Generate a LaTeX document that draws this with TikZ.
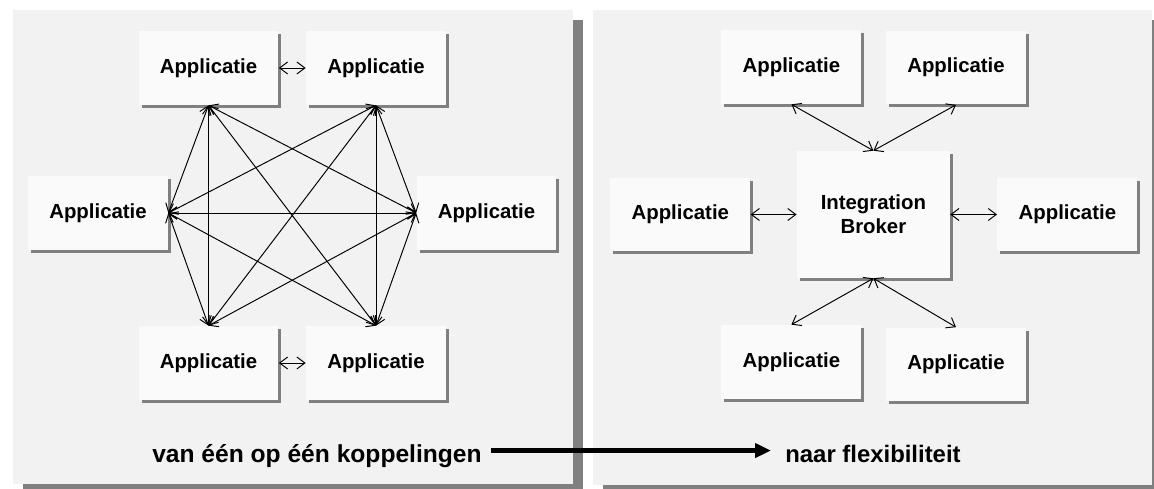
\documentclass[tikz,border=0pt]{standalone}
\usepackage{fontspec}
\setmainfont{Liberation Sans}
\usetikzlibrary{arrows.meta,shadows}
\definecolor{panelgray}{HTML}{F2F2F2}
\definecolor{boxwhite}{HTML}{FAFAFA}
\definecolor{shadowgray}{HTML}{808080}
\begin{document}
\begin{tikzpicture}[x=0.02cm,y=-0.02cm,
  panel/.style={fill=panelgray,drop shadow={shadow xshift=0.2cm,shadow yshift=-0.2cm,fill=shadowgray,opacity=1}},
  app/.style={fill=boxwhite,minimum width=2.8cm,minimum height=1.48cm,inner sep=0pt,align=center,
    font=\fontsize{11.6}{13.5}\selectfont\bfseries,
    drop shadow={shadow xshift=0.06cm,shadow yshift=-0.06cm,fill=shadowgray,opacity=1}},
  link/.style={{Straight Barb[length=1.6mm,width=2.4mm]}-{Straight Barb[length=1.6mm,width=2.4mm]},line width=0.55pt},
  caption/.style={inner sep=0pt,font=\fontsize{14}{16}\selectfont\bfseries}]
\useasboundingbox (0,0) rectangle (1154,489);
\clip (0,0) rectangle (1154,489);

\fill [panel] (13,10) rectangle (573,484);
\fill [panel] (593,10) rectangle (1152,485);

% van een op een
\node [app] (tl) at (208.5,68) {Applicatie};
\node [app] (tr) at (376,68) {Applicatie};
\node [app] (ml) at (98,213) {Applicatie};
\node [app] (mr) at (486.5,213) {Applicatie};
\node [app] (bl) at (208.5,363) {Applicatie};
\node [app] (br) at (376,363) {Applicatie};

\draw [link] (tl.east) -- (tr.west);
\draw [link] (bl.east) -- (br.west);

\coordinate (tl-p) at (tl.south);
\coordinate (tr-p) at (tr.south);
\coordinate (ml-p) at (ml.east);
\coordinate (mr-p) at (mr.west);
\coordinate (bl-p) at (bl.north);
\coordinate (br-p) at (br.north);
\foreach \a/\b in {tl/bl,tl/br,tl/ml,tl/mr,tr/bl,tr/br,tr/ml,tr/mr,ml/mr,ml/bl,ml/br,mr/bl,mr/br}
  \draw [link] (\a-p) -- (\b-p);

% broker
\node [app,minimum width=3.06cm,minimum height=2.54cm] (broker) at (873.4,214.5) {Integration\\Broker};
\node [app] (rtl) at (791.4,67) {Applicatie};
\node [app] (rtr) at (956,67.5) {Applicatie};
\node [app] (rml) at (680.3,214.5) {Applicatie};
\node [app] (rmr) at (1067.4,214.5) {Applicatie};
\node [app] (rbl) at (791.4,362) {Applicatie};
\node [app] (rbr) at (956,364.5) {Applicatie};

\draw [link] (rtl.south) -- (broker.north);
\draw [link] (rtr.south) -- (broker.north);
\draw [link] (rml.east) -- (broker.west);
\draw [link] (broker.east) -- (rmr.west);
\draw [link] (broker.south) -- (rbl.north);
\draw [link] (broker.south) -- (rbr.north);

\node [caption,anchor=base east] (van) at (482,462.5) {van één op één koppelingen};
\node [caption,anchor=base west,font=\fontsize{13.6}{16}\selectfont\bfseries] (naar) at (785,462.5) {naar flexibiliteit};
\draw [line width=2.4pt,-{Triangle[length=3.2mm,width=2.8mm]},shorten <=0.18cm,shorten >=0.28cm]
  ([yshift=6.8pt]van.base east) -- ([yshift=6.8pt]naar.base west);
\end{tikzpicture}
\end{document}
